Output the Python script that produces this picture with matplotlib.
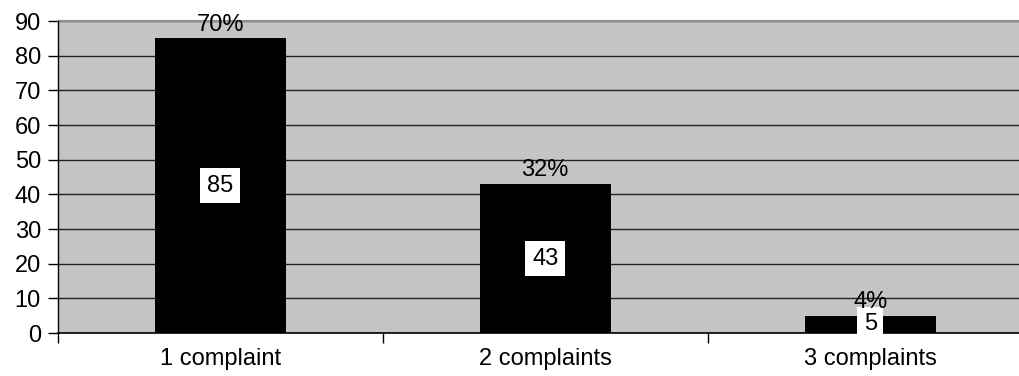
import matplotlib
matplotlib.use("Agg")
import matplotlib.pyplot as plt
import numpy as np

categories = ["1 complaint", "2 complaints", "3 complaints"]
counts = [85, 43, 5]
percent_labels = ["70%", "32%", "4%"]
y_ticks = [0, 10, 20, 30, 40, 50, 60, 70, 80, 90]

plt.rcParams["font.family"] = ["Liberation Sans", "DejaVu Sans"]

fig = plt.figure(figsize=(10.2, 3.76), dpi=100)
ax = fig.add_axes([0.0565, 0.114, 0.956, 0.830])
ax.set_facecolor("#c4c4c4")

x = np.arange(len(categories))
bars = ax.bar(x, counts, width=0.403, color="black", zorder=3)

ax.set_xlim(-0.5, len(categories) - 0.5)
ax.set_ylim(0, 90)
ax.set_yticks(y_ticks)
ax.yaxis.grid(True, color="#222222", linewidth=1.0, zorder=1)
ax.set_axisbelow(True)

# category labels sit between boundary ticks
ax.set_xticks(x)
ax.set_xticklabels(categories, fontsize=17)
ax.tick_params(axis="x", length=0, pad=11)
ax.set_xticks(np.arange(len(categories) + 1) - 0.5, minor=True)
ax.tick_params(axis="x", which="minor", length=7, width=1, color="black")
ax.tick_params(axis="y", length=7, width=1, labelsize=17, pad=5)

for side in ("top", "right"):
    ax.spines[side].set_visible(False)
ax.spines["left"].set_linewidth(1)
ax.spines["bottom"].set_linewidth(1.2)
ax.axhline(90, color="#909090", linewidth=1.5, zorder=2, clip_on=False)

for xi, val, pct in zip(x, counts, percent_labels):
    ax.text(xi, val / 2, str(val), ha="center", va="center", fontsize=17,
            zorder=5,
            bbox=dict(boxstyle="square,pad=0.28", facecolor="white",
                      edgecolor="none"))
    ax.annotate(pct, (xi, val), xytext=(0, 2), textcoords="offset points",
                ha="center", va="bottom", fontsize=17, zorder=5,
                annotation_clip=False)

fig.savefig("out.png", dpi=100)
